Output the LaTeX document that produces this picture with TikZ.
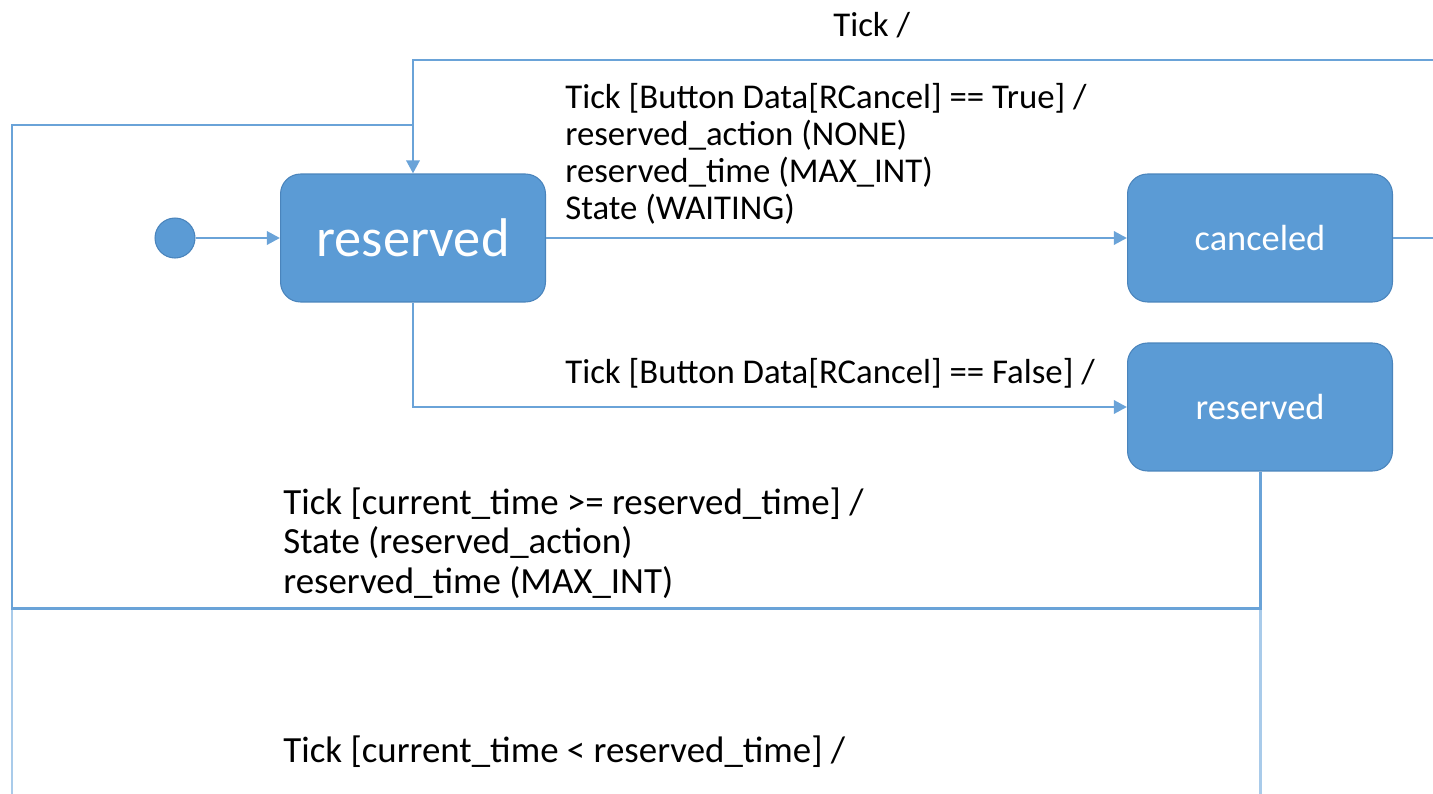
\documentclass[tikz,border=0pt]{standalone}
\usepackage{fontspec}
\setmainfont{Carlito}
\usepackage{xcolor}
\usetikzlibrary{arrows.meta}
\definecolor{stblue}{HTML}{5B9BD5}
\definecolor{stedge}{HTML}{4A84BC}
\definecolor{stline}{HTML}{6AA3D8}
\definecolor{stpale}{HTML}{A9CBEA}

\begin{document}
\begin{tikzpicture}[x=0.02cm,y=-0.02cm,
  state/.style={rectangle,rounded corners=0.4cm,fill=stblue,draw=stedge,line width=0.6pt,
    minimum width=5.3cm,minimum height=2.56cm,text=white,font=\fontsize{20.7}{22}\selectfont},
  bigstate/.style={state,font=\fontsize{31}{33}\selectfont},
  initdot/.style={circle,fill=stblue,draw=stedge,line width=0.6pt,minimum size=0.8cm,inner sep=0pt},
  flow/.style={draw=stline,line width=1.7pt,-{Triangle[length=7.5pt,width=7.5pt]}},
  wire/.style={draw=stline,line width=1.7pt},
  palewire/.style={draw=stpale,line width=1.7pt},
  lbl/.style={anchor=base west,inner sep=0pt,align=left,font=\fontsize{19.8}{21}\selectfont},
  lblb/.style={lbl,font=\fontsize{21}{22.4}\selectfont}]
\useasboundingbox (0,0) rectangle (1433,794);

\coordinate (topR) at (1433,60);
\coordinate (cancR) at (1433,238);
\coordinate (join) at (413,125);
\coordinate (loopL) at (12,125);
\coordinate (loopB) at (12,608);
\coordinate (botL) at (12,794);
\coordinate (botR) at (1260,794);

\node[initdot] (init) at (175,238) {};
\node[bigstate] (res) at (413,238) {reserved};
\node[state] (canc) at (1260,238) {canceled};
\node[state] (res2) at (1260,407) {reserved};

% lines running off the picture
\draw[palewire] (res2.south) -- (botR);
\draw[palewire] (botL) -- (loopB);
\draw[wire] (canc.east) -- (cancR);

\draw[flow] (init) -- (res);
\draw[flow] (res) -- (canc);
\draw[flow] (res.south) |- (res2);
\draw[flow] (topR) -| (res.north);
\draw[wire] (res2.south) |- (loopB) -- (loopL) -- (join);

\node[lbl] (tick) at (833,37) {Tick /};
\node[lbl] (cancT) at (565,219) {Tick [Button Data[RCancel] == True] /\\reserved\_action (NONE)\\reserved\_time (MAX\_INT)\\State (WAITING)};
\node[lbl] (cancF) at (565,383) {Tick [Button Data[RCancel] == False] /};
\node[lblb] (timeup) at (283,593) {Tick [current\_time >= reserved\_time] /\\State (reserved\_action)\\reserved\_time (MAX\_INT)};
\node[lblb] (timelt) at (283,762) {Tick [current\_time < reserved\_time] /};
\end{tikzpicture}
\end{document}
